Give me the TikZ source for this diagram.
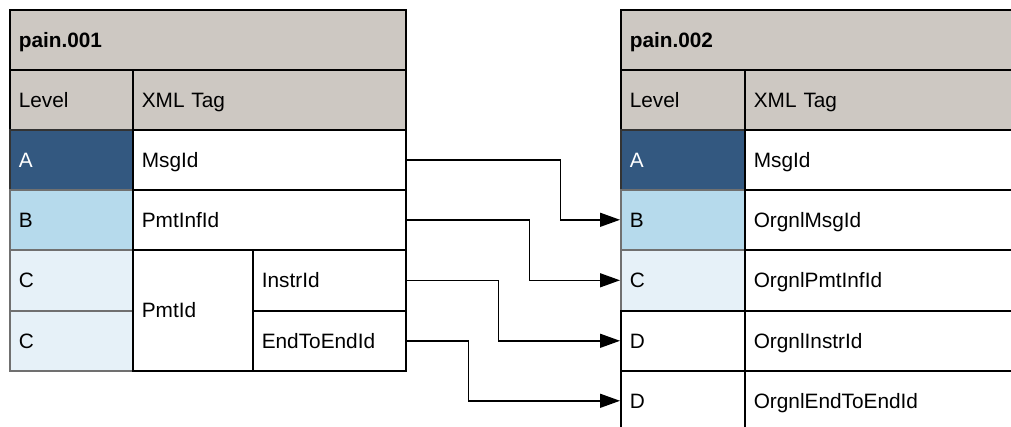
\documentclass[tikz,border=0pt]{standalone}
\usepackage{fontspec}
\setmainfont{Liberation Sans}
\usetikzlibrary{arrows.meta}
\definecolor{hdrgray}{HTML}{CDC8C2}
\definecolor{darkblue}{HTML}{335880}
\definecolor{lightblue}{HTML}{B6DAEC}
\definecolor{paleblue}{HTML}{E6F1F8}
\definecolor{bordgray}{HTML}{707070}
\tikzset{
  cell/.style={draw=black, line width=1.6pt, anchor=north west, inner xsep=9pt, inner ysep=0pt,
    align=left, font=\fontsize{20.8}{25}\selectfont, fill=white, text height=14.9pt, text depth=0pt},
  hdr/.style={cell, fill=hdrgray},
  bold/.style={font=\fontsize{20.8}{25}\selectfont\bfseries},
  lvA/.style={cell, fill=darkblue, text=white, draw=black!80},
  lvB/.style={cell, fill=lightblue, draw=bordgray},
  lvC/.style={cell, fill=paleblue, draw=bordgray},
  wh/.code 2 args={\pgfmathsetmacro\cellTW{#1-18}%
    \edef\cellTmp{\noexpand\tikzset{minimum width=#1pt, minimum height=#2pt, text width=\cellTW pt}}\cellTmp},
  conn/.style={line width=1.5pt, -{Triangle[length=20pt,width=14pt]}},
}
\begin{document}
\begin{tikzpicture}[x=1pt,y=-1pt]
\useasboundingbox (0,0) rectangle (1011,427);
\clip (0,0) rectangle (1011,427);
% left table
\node[hdr,bold,wh={396}{60}] (hdrL) at (9,9) {pain.001};
\node[hdr,wh={123}{60}] (lvlL) at (9,69) {Level};
\node[hdr,wh={273}{60}] (tagL) at (132,69) {XML Tag};
\node[lvA,wh={123}{60}] (aL) at (9,129) {A};
\node[lvB,wh={123}{60}] (bL) at (9,189) {B};
\node[lvC,wh={123}{61}] (c1L) at (9,249) {C};
\node[lvC,wh={123}{60}] (c2L) at (9,310) {C};
\node[cell,wh={273}{60}] (msgL) at (132,129) {MsgId};
\node[cell,wh={273}{60}] (pmtinfL) at (132,189) {PmtInfId};
\node[cell,wh={120}{121}] (pmtidL) at (132,249) {PmtId};
\node[cell,wh={153}{61}] (instrL) at (252,249) {InstrId};
\node[cell,wh={153}{60}] (e2eL) at (252,310) {EndToEndId};
% right table
\node[hdr,bold,wh={440}{60}] (hdrR) at (620,9) {pain.002};
\node[hdr,wh={124}{60}] (lvlR) at (620,69) {Level};
\node[hdr,wh={316}{60}] (tagR) at (744,69) {XML Tag};
\node[lvA,wh={124}{60}] (aR) at (620,129) {A};
\node[lvB,wh={124}{60}] (bR) at (620,189) {B};
\node[lvC,wh={124}{61}] (cR) at (620,249) {C};
\node[cell,wh={124}{60}] (d1R) at (620,310) {D};
\node[cell,wh={124}{60}] (d2R) at (620,370) {D};
\node[cell,wh={316}{60}] (msgR) at (744,129) {MsgId};
\node[cell,wh={316}{60}] (omsgR) at (744,189) {OrgnlMsgId};
\node[cell,wh={316}{61}] (opmtR) at (744,249) {OrgnlPmtInfId};
\node[cell,wh={316}{60}] (oinstrR) at (744,310) {OrgnlInstrId};
\node[cell,wh={316}{60}] (oe2eR) at (744,370) {OrgnlEndToEndId};
% connectors
\draw[conn] (msgL.east) -- ++(154,0) |- (bR.west);
\draw[conn] (pmtinfL.east) -- ++(123,0) |- (cR.west);
\draw[conn] (instrL.east) -- ++(92,0) |- (d1R.west);
\draw[conn] (e2eL.east) -- ++(62,0) |- (d2R.west);
\end{tikzpicture}
\end{document}
